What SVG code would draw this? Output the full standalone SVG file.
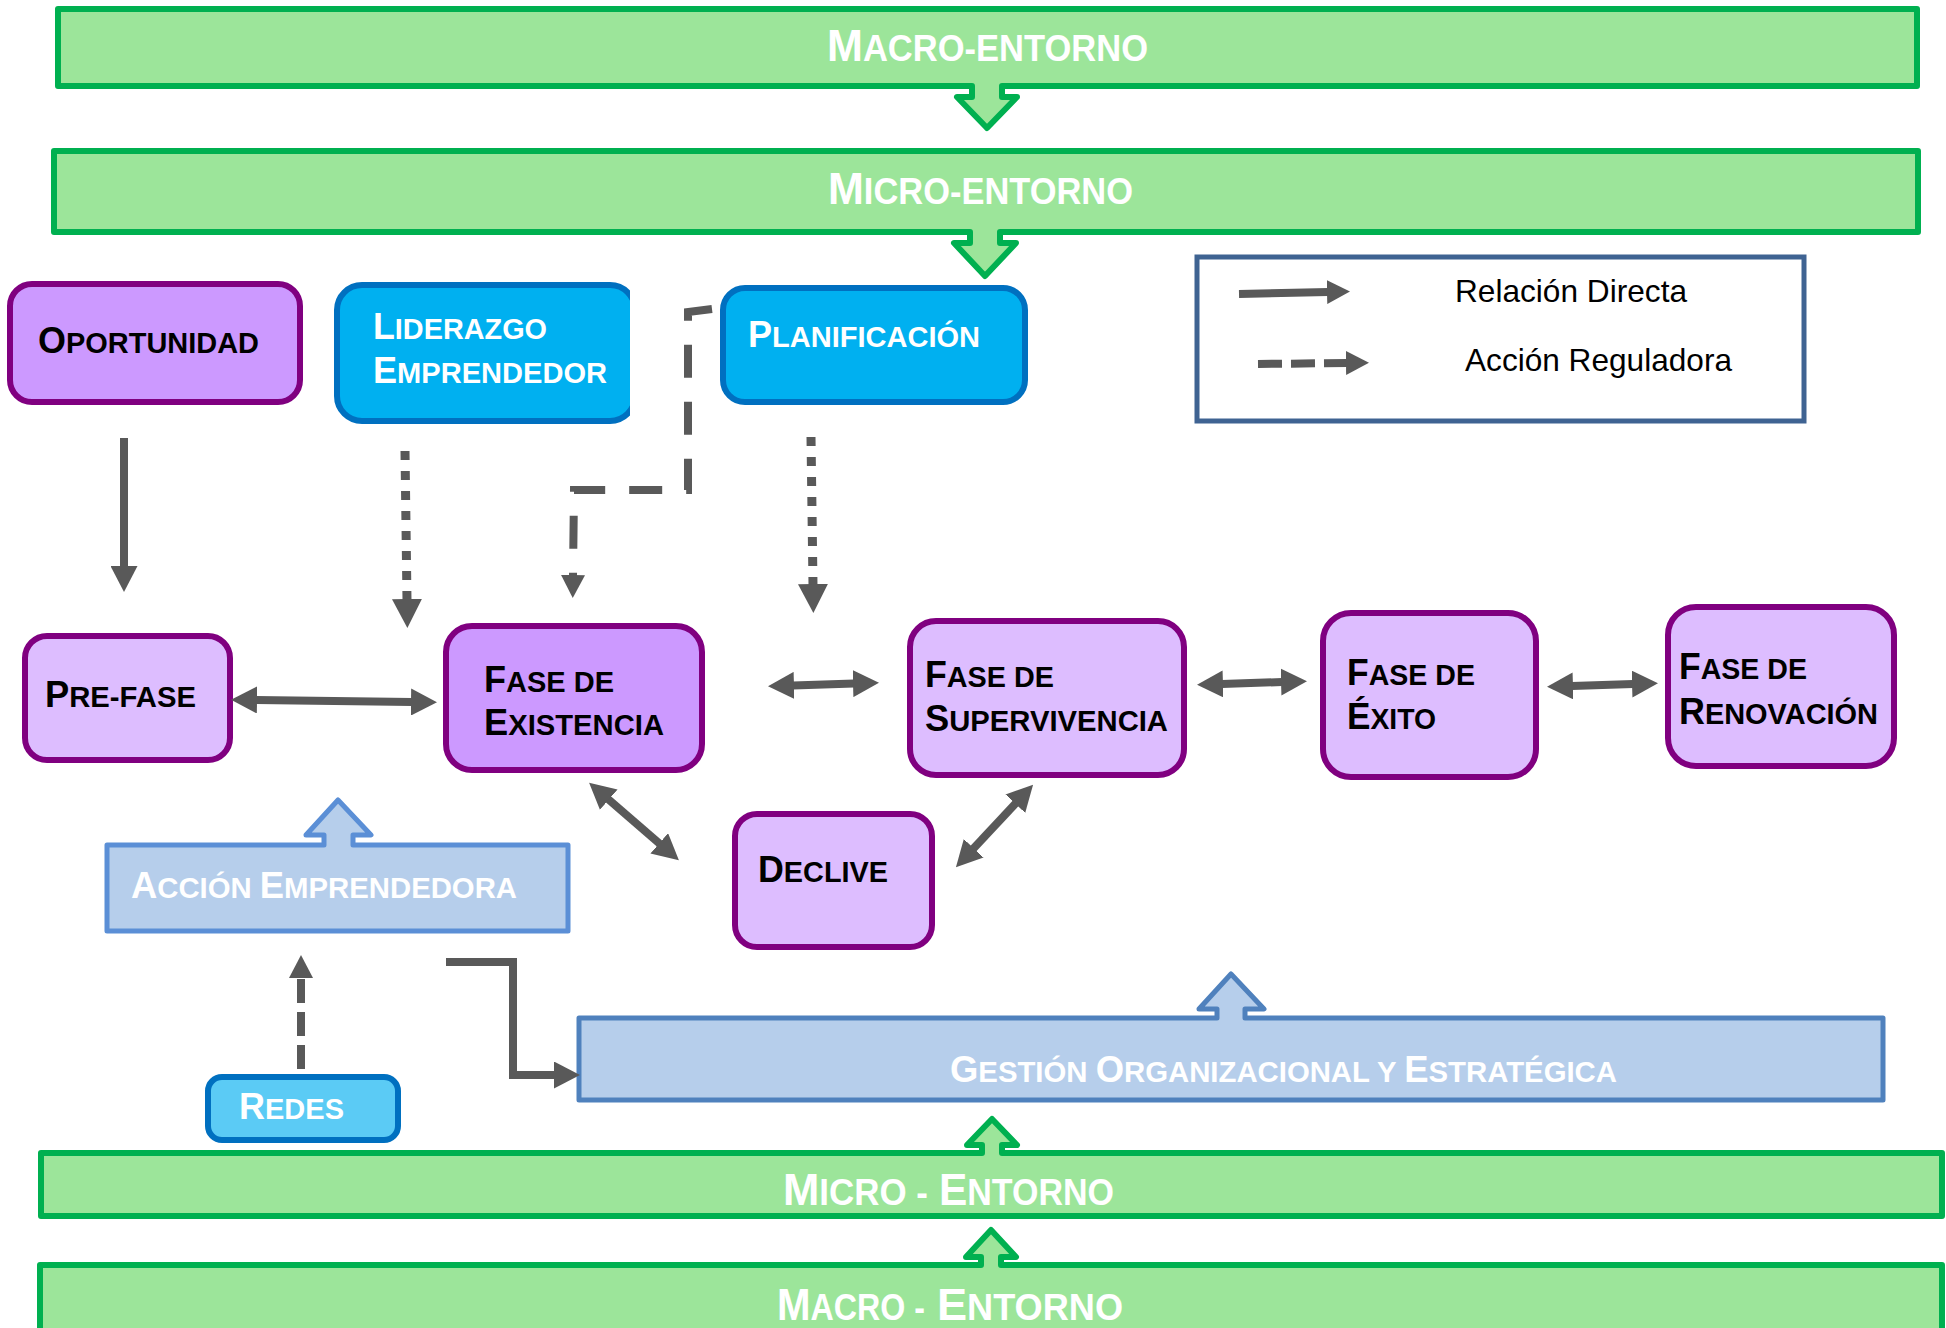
<svg xmlns="http://www.w3.org/2000/svg" width="1946" height="1328" viewBox="0 0 1946 1328">
<style>
.bn{fill:#9CE59A;stroke:#00B050;stroke-width:6;stroke-linejoin:round}
.pd{fill:#CC99FF;stroke:#800080;stroke-width:6}
.pl{fill:#DDBDFF;stroke:#800080;stroke-width:6}
.bl{fill:#00B0F0;stroke:#0070C0;stroke-width:6}
.rd{fill:#5BCBF5;stroke:#0070C0;stroke-width:6}
.lb{fill:#B6CEEB;stroke:#5B8FD6;stroke-width:5;stroke-linejoin:round}
.lb2{fill:#B6CEEB;stroke:#4F81BD;stroke-width:5;stroke-linejoin:round}
.lg{fill:#FFFFFF;stroke:#3F6392;stroke-width:5}
text{font-family:"Liberation Sans",Arial,sans-serif;font-weight:bold}
.w{fill:#FFFFFF}
.k{fill:#000000}
.B{font-size:45px}
.S{font-size:36px}
.b{font-size:36px}
.s{font-size:29px}
.leg{font-weight:normal;font-size:32px;fill:#000000}
.c{fill:none;stroke:#595959;stroke-width:8;stroke-linejoin:miter}
.dot{stroke-dasharray:9 11;stroke-width:9}
.dsh{stroke-dasharray:33 24}
.dsh2{stroke-dasharray:24 9}
</style>
<defs>
<marker id="h" viewBox="0 0 26 27" refX="1" refY="13.5" markerWidth="26" markerHeight="27" markerUnits="userSpaceOnUse" orient="auto-start-reverse"><path d="M0,0 L26,13.5 L0,27 Z" fill="#595959"/></marker>
<marker id="hb" viewBox="0 0 29 30" refX="1" refY="15" markerWidth="29" markerHeight="30" markerUnits="userSpaceOnUse" orient="auto-start-reverse"><path d="M0,0 L29,15 L0,30 Z" fill="#595959"/></marker>
<marker id="hs" viewBox="0 0 23 24" refX="1" refY="12" markerWidth="23" markerHeight="24" markerUnits="userSpaceOnUse" orient="auto-start-reverse"><path d="M0,0 L23,12 L0,24 Z" fill="#595959"/></marker>
<clipPath id="cl"><rect x="0" y="0" width="630" height="1328"/></clipPath>
</defs>
<rect width="1946" height="1328" fill="#FFFFFF"/>

<g id="macro-top">
<path class="bn" d="M58,9 H1917 V86 H1002 V97 H1017 L987,128 L957,97 H972 V86 H58 Z"/>
<text class="w" x="827" y="61" textLength="321" lengthAdjust="spacingAndGlyphs"><tspan class="B">M</tspan><tspan class="S">ACRO-ENTORNO</tspan></text>
</g>
<g id="micro-top">
<path class="bn" d="M54,151 H1918 V232 H1000 V243 H1016 L985,276 L954,243 H970 V232 H54 Z"/>
<text class="w" x="828" y="204" textLength="305" lengthAdjust="spacingAndGlyphs"><tspan class="B">M</tspan><tspan class="S">ICRO-ENTORNO</tspan></text>
</g>

<g id="oportunidad">
<rect class="pd" x="10" y="284" width="290" height="118" rx="22"/>
<text class="k" x="38" y="353" textLength="221" lengthAdjust="spacingAndGlyphs"><tspan class="b">O</tspan><tspan class="s">PORTUNIDAD</tspan></text>
</g>
<g id="liderazgo">
<rect class="bl" x="337" y="285" width="298" height="136" rx="25" clip-path="url(#cl)"/>
<text class="w" x="373" y="339" textLength="174" lengthAdjust="spacingAndGlyphs"><tspan class="b">L</tspan><tspan class="s">IDERAZGO</tspan></text>
<text class="w" x="373" y="383" textLength="234" lengthAdjust="spacingAndGlyphs"><tspan class="b">E</tspan><tspan class="s">MPRENDEDOR</tspan></text>
</g>
<g id="planificacion">
<rect class="bl" x="723" y="288" width="302" height="114" rx="22"/>
<text class="w" x="748" y="347" textLength="232" lengthAdjust="spacingAndGlyphs"><tspan class="b">P</tspan><tspan class="s">LANIFICACIÓN</tspan></text>
</g>

<g id="leyenda">
<rect class="lg" x="1197" y="257" width="607" height="164"/>
<line class="c" x1="1239" y1="294" x2="1328" y2="292" marker-end="url(#hs)"/>
<text class="leg" x="1455" y="302" textLength="232" lengthAdjust="spacingAndGlyphs">Relación Directa</text>
<line class="c dsh2" x1="1258" y1="364" x2="1347" y2="363" marker-end="url(#hs)"/>
<text class="leg" x="1465" y="371" textLength="267" lengthAdjust="spacingAndGlyphs">Acción Reguladora</text>
</g>

<g id="prefase">
<rect class="pl" x="25" y="636" width="205" height="124" rx="22"/>
<text class="k" x="45" y="707" textLength="151" lengthAdjust="spacingAndGlyphs"><tspan class="b">P</tspan><tspan class="s">RE-FASE</tspan></text>
</g>
<g id="existencia">
<rect class="pd" x="446" y="626" width="256" height="144" rx="26"/>
<text class="k" x="484" y="692" textLength="130" lengthAdjust="spacingAndGlyphs"><tspan class="b">F</tspan><tspan class="s">ASE DE</tspan></text>
<text class="k" x="484" y="735" textLength="180" lengthAdjust="spacingAndGlyphs"><tspan class="b">E</tspan><tspan class="s">XISTENCIA</tspan></text>
</g>
<g id="supervivencia">
<rect class="pl" x="910" y="621" width="274" height="154" rx="26"/>
<text class="k" x="925" y="687" textLength="129" lengthAdjust="spacingAndGlyphs"><tspan class="b">F</tspan><tspan class="s">ASE DE</tspan></text>
<text class="k" x="925" y="731" textLength="243" lengthAdjust="spacingAndGlyphs"><tspan class="b">S</tspan><tspan class="s">UPERVIVENCIA</tspan></text>
</g>
<g id="exito">
<rect class="pl" x="1323" y="613" width="213" height="164" rx="28"/>
<text class="k" x="1347" y="685" textLength="128" lengthAdjust="spacingAndGlyphs"><tspan class="b">F</tspan><tspan class="s">ASE DE</tspan></text>
<text class="k" x="1347" y="729" textLength="89" lengthAdjust="spacingAndGlyphs"><tspan class="b">É</tspan><tspan class="s">XITO</tspan></text>
</g>
<g id="renovacion">
<rect class="pl" x="1668" y="607" width="226" height="159" rx="28"/>
<text class="k" x="1679" y="679" textLength="128" lengthAdjust="spacingAndGlyphs"><tspan class="b">F</tspan><tspan class="s">ASE DE</tspan></text>
<text class="k" x="1679" y="724" textLength="199" lengthAdjust="spacingAndGlyphs"><tspan class="b">R</tspan><tspan class="s">ENOVACIÓN</tspan></text>
</g>
<g id="declive">
<rect class="pl" x="735" y="814" width="197" height="133" rx="22"/>
<text class="k" x="758" y="882" textLength="130" lengthAdjust="spacingAndGlyphs"><tspan class="b">D</tspan><tspan class="s">ECLIVE</tspan></text>
</g>
<g id="accion-emprendedora">
<path class="lb" d="M107,845 H324 V835 H306 L338,800 L371,835 H353 V845 H568 V931 H107 Z"/>
<text class="w" x="131" y="898" textLength="386" lengthAdjust="spacingAndGlyphs"><tspan class="b">A</tspan><tspan class="s">CCIÓN </tspan><tspan class="b">E</tspan><tspan class="s">MPRENDEDORA</tspan></text>
</g>
<g id="redes">
<rect class="rd" x="208" y="1077" width="190" height="63" rx="14"/>
<text class="w" x="239" y="1119" textLength="105" lengthAdjust="spacingAndGlyphs"><tspan class="b">R</tspan><tspan class="s">EDES</tspan></text>
</g>
<g id="gestion">
<path class="lb2" d="M579,1018 H1217 V1009 H1199 L1231,974 L1264,1009 H1245 V1018 H1883 V1100 H579 Z"/>
<text class="w" x="950" y="1082" textLength="667" lengthAdjust="spacingAndGlyphs"><tspan class="b">G</tspan><tspan class="s">ESTIÓN </tspan><tspan class="b">O</tspan><tspan class="s">RGANIZACIONAL Y </tspan><tspan class="b">E</tspan><tspan class="s">STRATÉGICA</tspan></text>
</g>
<g id="micro-bottom">
<path class="bn" d="M41,1153 H982 V1145 H967 L992,1119 L1017,1145 H1002 V1153 H1942 V1216 H41 Z"/>
<text class="w" x="783" y="1205" textLength="145" lengthAdjust="spacingAndGlyphs"><tspan class="B">M</tspan><tspan class="S">ICRO -</tspan></text>
<text class="w" x="939" y="1205" textLength="175" lengthAdjust="spacingAndGlyphs"><tspan class="B">E</tspan><tspan class="S">NTORNO</tspan></text>
</g>
<g id="macro-bottom">
<path class="bn" d="M40,1265 H981 V1257 H966 L991,1230 L1016,1257 H1001 V1265 H1942 V1345 H40 Z"/>
<text class="w" x="777" y="1320" textLength="148" lengthAdjust="spacingAndGlyphs"><tspan class="B">M</tspan><tspan class="S">ACRO -</tspan></text>
<text class="w" x="937" y="1320" textLength="186" lengthAdjust="spacingAndGlyphs"><tspan class="B">E</tspan><tspan class="S">NTORNO</tspan></text>
</g>

<g id="connectors">
<line class="c" x1="124" y1="438" x2="124" y2="567" marker-end="url(#h)"/>
<path class="c dot" d="M405,451 L407,600" marker-end="url(#hb)"/>
<path class="c dsh" d="M712,309 L688,312 L688,490 L574,490 L573,576" marker-end="url(#hs)"/>
<path class="c dot" d="M811,437 L813,585" marker-end="url(#hb)"/>
<line class="c" x1="256" y1="700" x2="412" y2="702" marker-start="url(#h)" marker-end="url(#h)"/>
<line class="c" x1="793" y1="685.4" x2="854" y2="683.6" marker-start="url(#h)" marker-end="url(#h)"/>
<line class="c" x1="1222" y1="684" x2="1282" y2="682" marker-start="url(#h)" marker-end="url(#h)"/>
<line class="c" x1="1572" y1="686" x2="1633" y2="684" marker-start="url(#h)" marker-end="url(#h)"/>
<line class="c" x1="608" y1="799" x2="660" y2="844" marker-start="url(#h)" marker-end="url(#h)"/>
<line class="c" x1="1016" y1="803" x2="973" y2="849" marker-start="url(#h)" marker-end="url(#h)"/>
<path class="c dsh2" d="M301,1069 L301,977" marker-end="url(#hs)"/>
<path class="c" d="M446,962 H513 V1075 H555" marker-end="url(#h)"/>
</g>
</svg>
